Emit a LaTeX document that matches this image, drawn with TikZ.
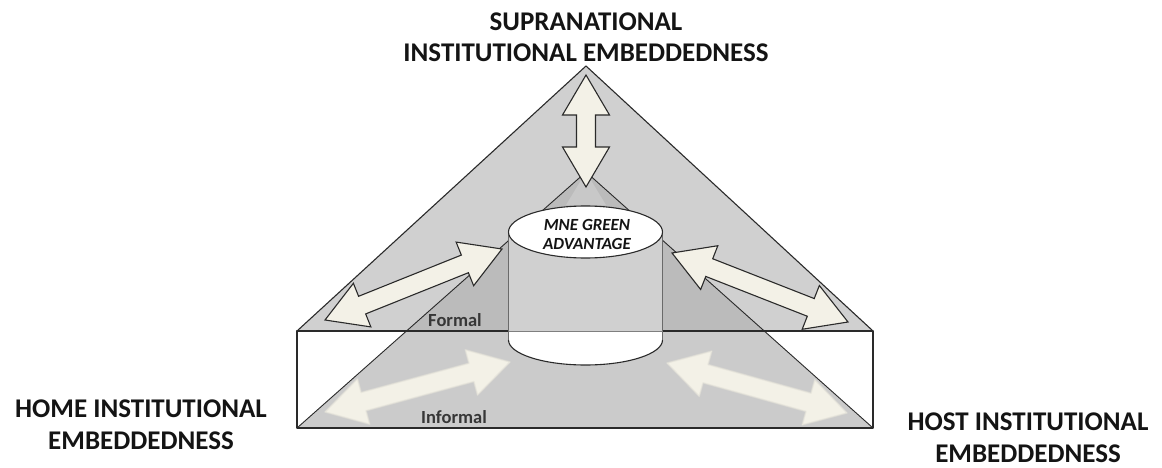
\documentclass[tikz,border=0pt]{standalone}
\usepackage{fontspec}
\setmainfont{Carlito}
\usetikzlibrary{calc,shapes.geometric}
\definecolor{outerg}{HTML}{D0D0D0}
\definecolor{overg}{HTML}{BBBBBB}
\definecolor{innerg}{HTML}{CBCBCB}
\definecolor{cream}{HTML}{F3F1E7}
\definecolor{edgec}{HTML}{2A2A2A}
\definecolor{txt}{HTML}{141414}
\newcommand\blockarrow[3]{%
  \coordinate (h1) at ($(#1)!40pt!(#2)$);
  \coordinate (h2) at ($(#2)!40pt!(#1)$);
  \path[#3] (#1)
   -- ($(h1)!23.5pt!90:(#2)$) -- ($(h1)!9.5pt!90:(#2)$)
   -- ($(h2)!9.5pt!-90:(#1)$) -- ($(h2)!23.5pt!-90:(#1)$)
   -- (#2)
   -- ($(h2)!23.5pt!90:(#1)$) -- ($(h2)!9.5pt!90:(#1)$)
   -- ($(h1)!9.5pt!-90:(#2)$) -- ($(h1)!23.5pt!-90:(#2)$)
   -- cycle;}
\tikzset{
  edgeline/.style={draw=edgec, line width=1.1pt, line join=round},
  outlinedarrow/.style={fill=cream, draw=edgec, line width=1.1pt, line join=miter},
  softarrow/.style={fill=cream, draw=cream!85!gray, draw opacity=0.6, line width=1.5pt, line join=round},
  bigtext/.style={font=\fontsize{27}{31.5}\selectfont\bfseries, text=txt, align=center, inner sep=0pt},
  midtext/.style={font=\fontsize{18.5}{22}\selectfont\bfseries, text=txt!85!white, inner sep=0pt, anchor=base},
  elltext/.style={font=\fontsize{17}{19}\selectfont\bfseries\itshape, text=txt, align=center, inner sep=0pt, anchor=base},
  topell/.style={ellipse, fill=white, draw=edgec, line width=1.1pt, minimum width=154pt, minimum height=52pt, inner sep=0pt},
}
\begin{document}
\begin{tikzpicture}[x=1pt, y=-1pt]
\useasboundingbox (0,0) rectangle (1162,468);
% key points
\coordinate (oA) at (586,66);
\coordinate (oL) at (297,331);
\coordinate (oR) at (873,331);
\coordinate (iA) at (586,172);
\coordinate (iL) at (297,428);
\coordinate (iR) at (873,428);
% outer triangle
\fill[outerg] (oA) -- (oL) -- (oR) -- cycle;
% box front
\fill[white] (oL) rectangle (iR);
% inner triangle: overlap (above box top) and in box
\begin{scope}
  \clip (0,0) rectangle (1162,331);
  \fill[overg] (iA) -- (iL) -- (iR) -- cycle;
\end{scope}
\begin{scope}
  \clip (0,331) rectangle (1162,468);
  \fill[innerg] (iA) -- (iL) -- (iR) -- cycle;
\end{scope}
% soft light below the vertical arrow tip
\fill[outerg!60!overg] (iA) -- (566,205) -- (606,205) -- cycle;
% edges
\draw[edgeline] (oL) -- (oA) -- (oR);
\draw[edgeline] (oL) rectangle (iR);
\draw[edgeline, line width=0.9pt] (iL) -- (iA) -- (iR);
% cylinder
\coordinate (cTL) at (508.5,232);
\coordinate (cTR) at (662.5,232);
\coordinate (cBL) at (508.5,340);
\coordinate (cBR) at (662.5,340);
\fill[outerg] (cTL) -- (cBL) arc[start angle=180, end angle=0, x radius=77, y radius=25] -- (cTR) -- cycle;
\begin{scope}
  \clip (cTL) -- (cBL) arc[start angle=180, end angle=0, x radius=77, y radius=25] -- (cTR) -- cycle;
  \fill[white] (500,331) rectangle (670,380);
\end{scope}
\draw[edgec!70!white, line width=0.7pt] (cTL) -- (cBL);
\draw[edgec!70!white, line width=0.7pt] (cTR) -- (cBR);
\draw[edgec, line width=1.1pt] (cBL) arc[start angle=180, end angle=0, x radius=77, y radius=25];
\draw[edgec!60!white, line width=0.8pt] (cBL |- oL) -- (cBR |- oR);
\node[topell] (cyl) at (585.5,232) {};
\node[elltext] (mne1) at (587,230) {MNE GREEN};
\node[elltext] (mne2) at (587,249) {ADVANTAGE};
% arrows
\coordinate (vA) at (586,75);   \coordinate (vB) at (586,187);
\coordinate (ulA) at (325,320); \coordinate (ulB) at (502,249);
\coordinate (urA) at (672,253); \coordinate (urB) at (848,322);
\coordinate (llA) at (325,412); \coordinate (llB) at (510,362);
\coordinate (lrA) at (667,363); \coordinate (lrB) at (847,413);
\blockarrow{llA}{llB}{softarrow}
\blockarrow{lrA}{lrB}{softarrow}
\blockarrow{vA}{vB}{outlinedarrow}
\blockarrow{ulA}{ulB}{outlinedarrow}
\blockarrow{urA}{urB}{outlinedarrow}
% labels
\node[midtext] (formal) at (455,326) {Formal};
\node[midtext] (informal) at (454,423) {Informal};
\node[bigtext] (supra) at (586,37) {SUPRANATIONAL\\INSTITUTIONAL EMBEDDEDNESS};
\node[bigtext] (home) at (141,424.5) {HOME INSTITUTIONAL\\EMBEDDEDNESS};
\node[bigtext] (host) at (1028,437.5) {HOST INSTITUTIONAL\\EMBEDDEDNESS};
\end{tikzpicture}
\end{document}
